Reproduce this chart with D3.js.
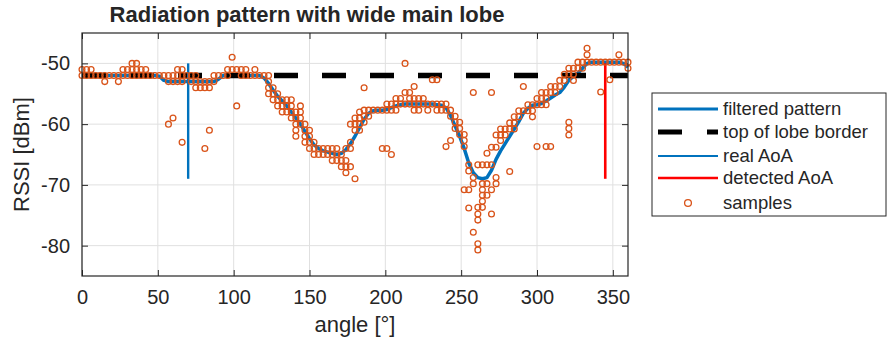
<!DOCTYPE html>
<html lang="en">
<meta charset="utf-8">
<head>
<script src="https://d3js.org/d3.v7.min.js"></script>
<style>
body { margin: 0; background: #fff; }
text { font-family: "Liberation Sans", Arial, Helvetica, sans-serif; fill: #262626; }
</style>
</head>
<body>
<script>
// angles of the measurement steps [deg]
const angles = [0, 3, 6, 9, 12, 15, 18, 21, 24, 27, 30, 33, 36, 39, 42, 45, 48, 51, 54, 57,
    60, 63, 66, 69, 72, 75, 78, 81, 84, 87, 90, 93, 96, 99, 102, 105, 108, 111, 114, 117,
    120, 123, 126, 129, 132, 135, 138, 141, 144, 147, 150, 153, 156, 159, 162, 165, 168, 171, 174, 177,
    180, 183, 186, 189, 192, 195, 198, 201, 204, 207, 210, 213, 216, 219, 222, 225, 228, 231, 234, 237,
    240, 243, 246, 249, 252, 255, 258, 261, 264, 267, 270, 273, 276, 279, 282, 285, 288, 291, 294, 297,
    300, 303, 306, 309, 312, 315, 318, 321, 324, 327, 330, 333, 336, 339, 342, 345, 348, 351, 354, 357, 360];

// filtered pattern [dBm], one value per angle
const filtered = [-51.7, -51.8, -51.9, -52, -52, -52, -52, -52, -52, -52, -52, -52, -52, -52, -52, -52, -52, -52.1, -52.8, -53,
    -53, -53, -53, -53, -53, -53, -53, -53, -53, -53, -52.6, -52, -51.9, -51.9, -51.9, -51.9, -51.9, -52, -52, -52,
    -52.4, -53.3, -54.4, -55.4, -56.2, -57, -58, -59, -60, -61.2, -62.4, -63.4, -64, -64.4, -64.6, -64.8, -65, -64.8, -64.2, -63.2,
    -62, -60.6, -59.2, -58.2, -57.8, -57.7, -57.7, -57.6, -57.3, -57, -56.8, -56.7, -56.7, -56.7, -56.7, -56.7, -56.7, -56.7, -56.8, -56.9,
    -57.3, -58.6, -60.3, -62, -64, -66.4, -68, -68.8, -69, -68.8, -67.6, -65.8, -64.4, -63.2, -62, -60.8, -59.6, -58.2, -57.4, -56.9,
    -56.8, -56.6, -56.2, -55.7, -55.2, -54.8, -53.9, -52.8, -52.1, -51.6, -50.8, -50, -49.8, -49.8, -49.8, -49.8, -49.8, -49.8, -49.8, -50, -50.6];

// raw RSSI samples [dBm] at each angle
const samples = [
    [-51, -52], [-51, -52], [-51, -52], [-52], [-52], [-52, -53], [-52], [-52], [-52, -53], [-51, -52],
    [-51, -52], [-50, -51, -52], [-50, -51, -52], [-51, -52], [-51, -52], [-52], [-52], [-52], [-52], [-52, -53, -60],
    [-52, -53, -59], [-51, -52, -53], [-51, -52, -53, -63], [-52], [-52, -53], [-52, -53, -54], [-53, -54], [-53, -54, -64], [-53, -54, -61], [-52, -53],
    [-52], [-52], [-51, -52], [-49, -51], [-51, -57], [-51, -52], [-51, -52], [-52], [-51, -52], [-52],
    [-52], [-52, -53, -54, -55], [-54, -55, -56], [-55, -56, -57], [-56, -57, -58], [-56, -57, -58], [-56, -57, -58, -59], [-58, -59, -60, -61, -62], [-57, -58, -59, -60], [-60, -61, -62, -63],
    [-61, -62, -63, -64], [-63, -64, -65], [-64, -65], [-64, -65], [-64, -65], [-64, -65, -66], [-64, -65, -66], [-65, -66, -67], [-64, -66, -67, -68], [-60, -63, -64, -67],
    [-59, -60, -61, -69], [-58, -59, -60, -61], [-54, -57.7, -58.7, -59.7], [-57.7, -58.7], [-57.7], [-57.7], [-57.7, -64], [-56.7, -57.7, -64], [-56.7, -57.7, -65], [-55.8, -56.7, -57.7],
    [-55.8, -56.7], [-50, -54.8, -56.7], [-54.8, -55.8, -56.7], [-53.8, -55.8, -56.7, -57.7], [-55.8, -56.7, -57.7], [-55.8, -56.7], [-56.7, -57.7], [-52.7, -56.7], [-52.7, -56.7, -57.7], [-56.7, -57.7],
    [-56.7, -57.7, -63.7], [-57.7, -58.7, -62.7], [-58.7, -59.7, -60.7], [-59.7, -60.7, -61.7], [-61.7, -62.7, -63.7, -70.8], [-66.7, -67.7, -70.8, -73.8], [-54.8, -68.8, -69.8, -77.8], [-66.7, -73.7, -74.8, -75.8, -79.7, -80.7], [-66.7, -69.8, -70.8, -71.7, -72.7, -73.7], [-64.8, -66.7, -69.8, -71.7],
    [-54.8, -63.8, -66.7, -70.8, -74.8], [-61.8, -63.8, -68.8, -69.8], [-60.8, -61.8, -62.7], [-60.8, -61.8], [-59.8, -60.8, -67.8], [-58.8, -59.8, -60.8], [-57.8, -58.8], [-53.8, -57.8], [-56.8, -57.8], [-56.8, -57.8, -58.8],
    [-55.8, -56.8, -63.7], [-54.8, -55.8, -56.8], [-54.8, -55.8, -56.8, -63.7], [-53.8, -54.8, -63.7], [-53.8, -54.8], [-52.8, -53.8], [-51.8, -52.8], [-50.8, -51.8, -59.7, -60.7, -61.8], [-50.8, -51.8, -52.8], [-49.8, -50.8],
    [-49.8, -50.8], [-47.5, -48.6, -49.8], [-49.8], [-49.8], [-49.8, -54.7], [-49.8], [-49.8, -52.7], [-49.8], [-48.6, -49.8], [-49.8], [-49.8, -50.8]
];

const lobeTop = -52;         // top of lobe border
const realAoA = 70;
const detectedAoA = 345;
const aoaSpan = [-50, -69];  // vertical extent of the AoA markers
const xTicks = [0, 50, 100, 150, 200, 250, 300, 350];
const yTicks = [-80, -70, -60, -50];
const legendLabels = ["filtered pattern", "top of lobe border", "real AoA", "detected AoA", "samples"];

const blue = "#0072BD", orange = "#D95319", red = "#FF0000", axisCol = "#262626";

// plot box
const pLeft = 82, pRight = 628, pTop = 33, pBottom = 276;

const svg = d3.select("body").append("svg")
    .attr("width", 888)
    .attr("height", 344);

const x = d3.scaleLinear().domain([0, 360]).range([pLeft, pRight]);
const y = d3.scaleLinear().domain([-85, -45]).range([pBottom, pTop]);

// grid
const grid = svg.append("g").attr("stroke", "#e0e0e0").attr("stroke-width", 1);
grid.selectAll(".gx").data(xTicks).join("line")
    .attr("x1", d => x(d)).attr("x2", d => x(d))
    .attr("y1", pTop).attr("y2", pBottom);
grid.selectAll(".gy").data(yTicks).join("line")
    .attr("x1", pLeft).attr("x2", pRight)
    .attr("y1", d => y(d)).attr("y2", d => y(d));

// axes (plain hyphen for negative labels, like the original)
const fmt = d => String(d);
function styleAxis(g) {
    g.select(".domain").remove();
    g.selectAll(".tick line").attr("stroke", axisCol);
    g.selectAll(".tick text").attr("fill", axisCol).style("font-size", "20px")
        .style("font-family", '"Liberation Sans", Arial, sans-serif');
}
svg.append("g").attr("transform", "translate(0," + pBottom + ")")
    .call(d3.axisBottom(x).tickValues(xTicks).tickFormat(fmt).tickSizeInner(-6).tickSizeOuter(0).tickPadding(14))
    .call(styleAxis);
svg.append("g").attr("transform", "translate(0," + pTop + ")")
    .call(d3.axisTop(x).tickValues(xTicks).tickSizeInner(-6).tickSizeOuter(0).tickFormat(""))
    .call(styleAxis);
svg.append("g").attr("transform", "translate(" + pLeft + ",0)")
    .call(d3.axisLeft(y).tickValues(yTicks).tickFormat(fmt).tickSizeInner(-6).tickSizeOuter(0).tickPadding(12))
    .call(styleAxis);
svg.append("g").attr("transform", "translate(" + pRight + ",0)")
    .call(d3.axisRight(y).tickValues(yTicks).tickSizeInner(-6).tickSizeOuter(0).tickFormat(""))
    .call(styleAxis);

// filtered pattern
const line = d3.line().x((d, i) => x(angles[i])).y(d => y(d));
svg.append("path").datum(filtered)
    .attr("fill", "none").attr("stroke", blue).attr("stroke-width", 3.5)
    .attr("stroke-linejoin", "round")
    .attr("d", line);

// top of lobe border
svg.append("line")
    .attr("x1", x(0)).attr("x2", x(360))
    .attr("y1", y(lobeTop)).attr("y2", y(lobeTop))
    .attr("stroke", "#000").attr("stroke-width", 5.5)
    .attr("stroke-dasharray", "24,24");

// AoA markers
svg.append("line")
    .attr("x1", x(realAoA)).attr("x2", x(realAoA))
    .attr("y1", y(aoaSpan[0])).attr("y2", y(aoaSpan[1]))
    .attr("stroke", blue).attr("stroke-width", 2.4);
svg.append("line")
    .attr("x1", x(detectedAoA)).attr("x2", x(detectedAoA))
    .attr("y1", y(aoaSpan[0])).attr("y2", y(aoaSpan[1]))
    .attr("stroke", red).attr("stroke-width", 2.6);

// samples
const pts = [];
samples.forEach((vals, i) => vals.forEach(v => pts.push({a: angles[i], v: v})));
svg.append("g").selectAll("circle").data(pts).join("circle")
    .attr("cx", d => x(d.a)).attr("cy", d => y(d.v))
    .attr("r", 2.9)
    .attr("fill", "none").attr("stroke", orange).attr("stroke-width", 1.3);

// box
svg.append("rect")
    .attr("x", pLeft).attr("y", pTop)
    .attr("width", pRight - pLeft).attr("height", pBottom - pTop)
    .attr("fill", "none").attr("stroke", axisCol).attr("stroke-width", 1.2);

// labels
svg.append("text")
    .attr("x", 307).attr("y", 22)
    .attr("text-anchor", "middle")
    .style("font-size", "22px").style("font-weight", "bold")
    .attr("fill", "#000")
    .text("Radiation pattern with wide main lobe");
svg.append("text")
    .attr("x", (pLeft + pRight) / 2).attr("y", 332)
    .attr("text-anchor", "middle")
    .style("font-size", "22px")
    .text("angle [°]");
svg.append("text")
    .attr("transform", "translate(29," + (pTop + pBottom) / 2 + ") rotate(-90)")
    .attr("text-anchor", "middle")
    .style("font-size", "22px")
    .text("RSSI [dBm]");

// legend
const lg = svg.append("g");
lg.append("rect")
    .attr("x", 652).attr("y", 93).attr("width", 234).attr("height", 123)
    .attr("fill", "#fff").attr("stroke", axisCol).attr("stroke-width", 1);
const rowY = [109, 132, 156, 178, 203];
lg.append("line").attr("x1", 658).attr("x2", 718).attr("y1", rowY[0]).attr("y2", rowY[0])
    .attr("stroke", blue).attr("stroke-width", 3);
lg.append("line").attr("x1", 658).attr("x2", 718).attr("y1", rowY[1]).attr("y2", rowY[1])
    .attr("stroke", "#000").attr("stroke-width", 5).attr("stroke-dasharray", "24,25");
lg.append("line").attr("x1", 658).attr("x2", 718).attr("y1", rowY[2]).attr("y2", rowY[2])
    .attr("stroke", blue).attr("stroke-width", 2.2);
lg.append("line").attr("x1", 658).attr("x2", 718).attr("y1", rowY[3]).attr("y2", rowY[3])
    .attr("stroke", red).attr("stroke-width", 2.6);
lg.append("circle").attr("cx", 688).attr("cy", rowY[4]).attr("r", 3.4)
    .attr("fill", "none").attr("stroke", orange).attr("stroke-width", 1.3);
lg.selectAll(".lt").data(legendLabels).join("text")
    .attr("x", 723).attr("y", (d, i) => rowY[i])
    .attr("dy", "0.35em")
    .style("font-size", "18.5px")
    .attr("fill", "#000")
    .text(d => d);
</script>
</body>
</html>
